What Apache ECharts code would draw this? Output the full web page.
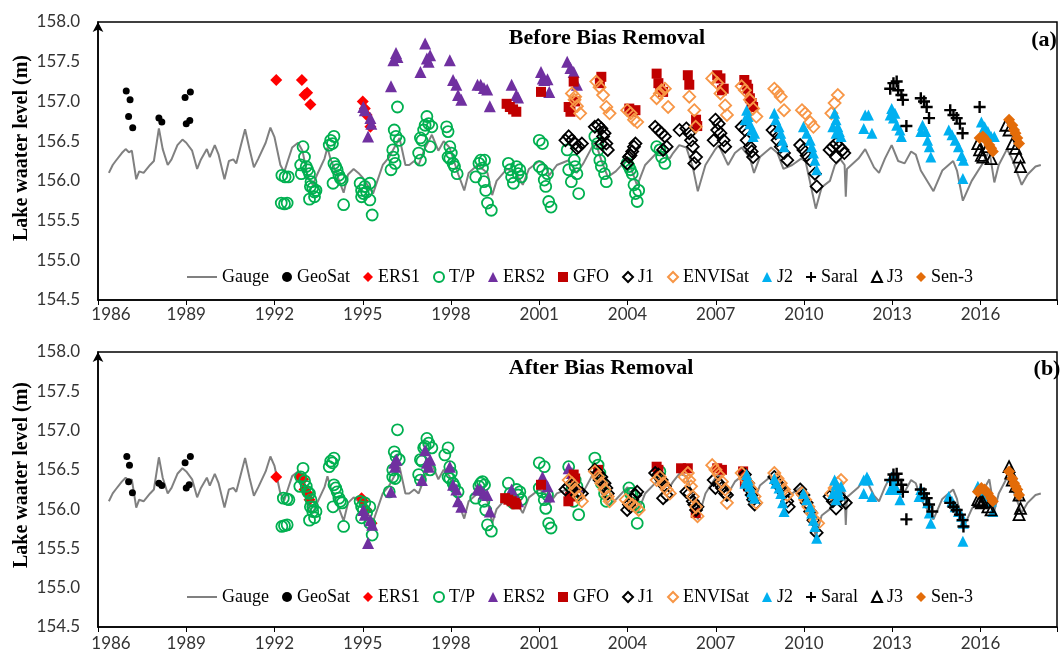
<!DOCTYPE html>
<html><head><meta charset="utf-8">
<script src="https://cdn.jsdelivr.net/npm/echarts@6/dist/echarts.min.js"></script>
<style>html,body{margin:0;padding:0;background:#fff}#c{width:1060px;height:652px}</style>
</head><body><div id="c"></div>
<script>
// ---------- tick labels ----------
const xTickLabels = [1986, 1989, 1992, 1995, 1998, 2001, 2004, 2007, 2010, 2013, 2016];
const yTickLabels = [154.5, 155.0, 155.5, 156.0, 156.5, 157.0, 157.5, 158.0];
const seriesNames = ['GeoSat','ERS1','T/P','ERS2','GFO','J1','ENVISat','J2','Saral','J3','Sen-3'];

// ---------- gauge (same in both panels) ----------
const gauge = [[1986.37,156.10],[1986.5,156.2],[1986.6,156.25],[1986.81,156.35],[1986.94,156.40],[1987.05,156.36],[1987.15,156.38],[1987.3,156.02],[1987.4,156.12],[1987.55,156.10],[1987.77,156.2],[1987.9,156.25],[1988.07,156.66],[1988.2,156.4],[1988.37,156.2],[1988.5,156.27],[1988.7,156.45],[1988.87,156.52],[1989.0,156.48],[1989.2,156.38],[1989.37,156.15],[1989.5,156.27],[1989.7,156.40],[1989.8,156.3],[1989.97,156.45],[1990.1,156.33],[1990.3,156.02],[1990.45,156.25],[1990.6,156.27],[1990.7,156.22],[1990.86,156.45],[1991.0,156.65],[1991.15,156.4],[1991.3,156.17],[1991.45,156.28],[1991.7,156.48],[1991.86,156.67],[1992.0,156.55],[1992.2,156.2],[1992.33,156.11],[1992.45,156.25],[1992.6,156.42],[1992.8,156.48],[1992.95,156.38],[1993.13,156.05],[1993.3,155.95],[1993.45,156.08],[1993.7,156.28],[1993.8,156.42],[1993.9,156.28],[1994.12,156.08],[1994.35,155.85],[1994.5,156.08],[1994.69,156.15],[1994.85,156.1],[1995.0,156.04],[1995.35,155.84],[1995.68,156.2],[1995.9,156.3],[1996.25,156.54],[1996.45,156.2],[1996.58,156.2],[1996.75,156.25],[1996.9,156.2],[1997.1,156.4],[1997.35,156.58],[1997.57,156.38],[1997.75,156.5],[1997.95,156.42],[1998.25,156.08],[1998.45,155.88],[1998.6,156.1],[1998.9,156.2],[1999.24,156.1],[1999.4,155.82],[1999.55,156.0],[1999.9,156.15],[2000.2,156.1],[2000.44,155.95],[2000.65,156.15],[2001.0,156.25],[2001.2,156.2],[2001.34,156.07],[2001.6,156.2],[2002.0,156.26],[2002.27,156.1],[2002.5,156.22],[2002.9,156.5],[2003.1,156.27],[2003.33,156.05],[2003.6,156.12],[2004.0,156.28],[2004.33,155.94],[2004.6,156.2],[2004.99,156.35],[2005.2,156.35],[2005.43,156.28],[2005.55,156.35],[2005.76,156.45],[2006.0,156.42],[2006.22,156.17],[2006.39,155.87],[2006.65,156.2],[2006.99,156.4],[2007.1,156.45],[2007.42,156.2],[2007.65,156.35],[2007.88,156.42],[2008.15,156.3],[2008.3,156.1],[2008.5,156.3],[2008.88,156.42],[2009.1,156.35],[2009.3,156.15],[2009.6,156.2],[2009.9,156.28],[2010.05,156.25],[2010.4,155.65],[2010.6,155.92],[2010.88,156.0],[2011.05,156.2],[2011.24,156.27],[2011.38,156.2],[2011.42,155.8],[2011.46,156.15],[2011.85,156.28],[2012.08,156.4],[2012.38,156.17],[2012.55,156.1],[2012.75,156.28],[2012.98,156.45],[2013.2,156.25],[2013.42,156.22],[2013.64,156.37],[2013.8,156.33],[2013.97,156.13],[2014.4,155.87],[2014.7,156.13],[2015.07,156.25],[2015.2,156.13],[2015.4,155.75],[2015.7,156.0],[2016.04,156.2],[2016.3,156.38],[2016.47,155.98],[2016.62,156.2],[2016.9,156.4],[2017.07,156.28],[2017.4,155.95],[2017.6,156.08],[2017.87,156.18],[2018.05,156.2]];

// ---------- panel (a): before bias removal ----------
const geoSatA = [[1986.96,157.13],[1987.09,157.02],[1987.04,156.81],[1987.18,156.67],[1988.07,156.79],[1988.17,156.74],[1988.96,157.05],[1989.14,157.12],[1989.0,156.72],[1989.12,156.76]];
const ers1A = [[1992.06,157.27],[1992.93,157.27],[1993.02,157.08],[1993.11,157.11],[1993.22,156.96],[1995.0,157.0],[1995.07,156.91],[1995.13,156.83],[1995.26,156.68]];
const tpA = [[1992.25,156.07],[1992.36,156.05],[1992.47,156.05],[1992.23,155.72],[1992.34,155.71],[1992.43,155.72],[1992.97,156.43],[1993.02,156.30],[1992.89,156.20],[1993.08,156.18],[1992.91,156.09],[1993.13,156.14],[1993.19,156.09],[1993.24,155.99],[1993.22,155.93],[1993.3,155.91],[1993.36,155.86],[1993.19,155.77],[1993.36,155.80],[1993.41,155.88],[1993.86,156.45],[1993.91,156.51],[1994.02,156.56],[1993.97,156.47],[1994.02,156.22],[1994.08,156.18],[1994.13,156.14],[1994.19,156.07],[1994.24,156.03],[1994.3,156.01],[1993.99,155.97],[1994.35,155.70],[1994.91,155.97],[1994.96,155.88],[1995.02,155.84],[1995.07,155.93],[1995.13,155.86],[1994.96,155.80],[1995.24,155.76],[1995.32,155.57],[1995.24,155.97],[1995.96,156.14],[1996.02,156.39],[1996.07,156.64],[1996.18,156.93],[1996.13,156.56],[1996.24,156.51],[1996.04,156.30],[1996.1,156.22],[1996.9,156.35],[1996.96,156.26],[1997.01,156.51],[1997.07,156.64],[1997.12,156.70],[1997.18,156.81],[1997.24,156.72],[1997.35,156.68],[1997.29,156.43],[1996.96,156.54],[1997.85,156.68],[1997.9,156.62],[1997.96,156.43],[1998.01,156.35],[1997.9,156.30],[1998.07,156.22],[1998.12,156.18],[1998.21,156.09],[1997.96,156.28],[1998.84,156.05],[1998.95,156.22],[1999.01,156.26],[1999.07,156.16],[1999.12,155.99],[1999.18,155.88],[1999.24,155.72],[1999.37,155.63],[1999.14,156.26],[1999.95,156.22],[2000.01,156.14],[2000.06,156.05],[2000.12,155.97],[2000.23,156.18],[2000.28,156.09],[2000.34,156.14],[2000.39,156.05],[2001.0,156.51],[2001.11,156.47],[2001.0,156.18],[2001.11,156.14],[2001.17,156.01],[2001.22,155.93],[2001.28,156.09],[2001.32,155.74],[2001.4,155.67],[2001.95,156.39],[2002.0,156.14],[2002.09,155.99],[2002.22,156.18],[2002.28,156.09],[2002.34,155.84],[2002.19,156.26],[2002.89,156.56],[2002.98,156.47],[2003.0,156.39],[2003.06,156.26],[2003.11,156.18],[2003.22,156.09],[2003.28,155.99],[2003.99,156.22],[2004.05,156.18],[2004.1,156.14],[2004.16,156.09],[2004.22,155.95],[2004.27,155.84],[2004.33,155.74],[2004.38,155.88],[2004.99,156.43],[2005.1,156.39],[2005.16,156.30],[2005.27,156.22]];
const ers2A = [[1995.02,156.93],[1995.07,156.89],[1995.18,156.56],[1995.26,156.79],[1995.29,156.72],[1995.96,157.19],[1996.04,157.52],[1996.13,157.61],[1996.18,157.56],[1996.96,157.37],[1997.12,157.73],[1997.18,157.54],[1997.29,157.58],[1997.24,157.50],[1997.96,157.52],[1998.07,157.27],[1998.18,157.21],[1998.24,157.08],[1998.35,157.02],[1998.9,157.21],[1999.01,157.21],[1999.12,157.17],[1999.23,157.15],[1999.32,156.94],[2000.06,157.21],[2000.22,157.08],[2000.28,157.05],[2001.06,157.37],[2001.12,157.29],[2001.17,157.27],[2001.28,157.28],[2001.34,157.12],[2001.95,157.50],[2002.06,157.42],[2002.17,157.37],[2002.28,157.21]];
const gfoA = [[1999.89,156.97],[2000.0,156.93],[2000.11,156.90],[2000.22,156.87],[2001.06,157.12],[2002.17,157.25],[2002.22,157.0],[2002.0,156.93],[2002.06,156.87],[2003.11,157.31],[2003.06,157.23],[2004.06,156.91],[2004.17,156.87],[2004.27,156.89],[2004.99,157.35],[2005.05,157.23],[2005.11,157.16],[2005.21,157.12],[2006.05,157.33],[2006.1,157.21],[2006.33,156.77],[2006.37,156.69],[2007.05,157.33],[2007.16,157.29],[2007.21,157.14],[2007.27,157.16],[2007.97,157.27],[2008.05,157.21],[2008.1,157.16],[2008.16,157.04],[2008.22,156.98],[2008.27,156.93]];
const j1A = [[2001.89,156.51],[2002.0,156.56],[2002.11,156.51],[2002.22,156.47],[2002.34,156.43],[2002.45,156.47],[2002.28,156.41],[2002.89,156.68],[2003.0,156.70],[2003.11,156.66],[2003.22,156.60],[2003.17,156.56],[2003.28,156.47],[2003.33,156.39],[2003.11,156.47],[2003.99,156.22],[2004.05,156.30],[2004.16,156.37],[2004.22,156.43],[2004.27,156.47],[2004.1,156.32],[2004.94,156.68],[2005.05,156.64],[2005.16,156.60],[2005.27,156.56],[2005.33,156.43],[2005.21,156.39],[2005.77,156.64],[2006.0,156.66],[2006.1,156.60],[2006.16,156.51],[2006.22,156.43],[2006.33,156.30],[2006.27,156.22],[2006.99,156.77],[2007.1,156.72],[2007.05,156.64],[2007.16,156.60],[2007.27,156.51],[2007.32,156.43],[2006.93,156.51],[2007.88,156.68],[2007.99,156.64],[2008.05,156.51],[2008.16,156.43],[2008.22,156.37],[2008.27,156.30],[2008.93,156.64],[2009.04,156.60],[2009.1,156.51],[2009.21,156.43],[2009.32,156.35],[2009.43,156.26],[2009.87,156.45],[2009.98,156.39],[2010.09,156.32],[2010.21,156.26],[2010.37,156.09],[2010.43,155.93],[2010.87,156.39],[2010.98,156.43],[2011.09,156.47],[2011.2,156.43],[2011.31,156.39],[2011.37,156.35],[2011.09,156.30]];
const envisatA = [[2002.11,157.10],[2002.2,157.02],[2002.28,156.94],[2002.39,156.85],[2002.22,157.06],[2002.94,157.25],[2003.05,157.18],[2003.17,157.08],[2003.28,156.93],[2003.39,156.85],[2003.99,156.89],[2004.11,156.85],[2004.22,156.77],[2004.33,156.74],[2004.99,157.04],[2005.1,157.10],[2005.16,157.14],[2005.27,157.16],[2005.38,156.93],[2006.1,157.06],[2006.27,156.89],[2006.32,156.68],[2006.88,157.29],[2007.05,157.23],[2007.16,157.10],[2007.32,156.95],[2007.38,156.83],[2007.88,157.19],[2007.99,157.14],[2008.16,157.02],[2008.27,156.91],[2008.38,156.81],[2008.99,157.16],[2009.1,157.12],[2009.21,157.06],[2009.32,156.89],[2009.93,156.89],[2010.04,156.85],[2010.21,156.74],[2010.32,156.68],[2010.93,156.85],[2011.04,156.98],[2011.15,157.08]];
const j2A = [[2008.05,156.89],[2008.1,156.81],[2008.16,156.72],[2008.22,156.64],[2008.27,156.56],[2008.32,156.60],[2007.99,156.77],[2008.99,156.85],[2009.04,156.77],[2009.15,156.68],[2009.21,156.60],[2009.27,156.51],[2009.32,156.43],[2009.98,156.68],[2010.09,156.60],[2010.21,156.51],[2010.26,156.43],[2010.32,156.35],[2010.37,156.26],[2010.43,156.14],[2011.04,156.85],[2011.09,156.77],[2011.15,156.68],[2011.2,156.62],[2011.26,156.56],[2010.98,156.68],[2011.09,156.60],[2012.08,156.83],[2012.19,156.83],[2012.03,156.66],[2012.31,156.60],[2012.98,156.91],[2013.09,156.85],[2013.04,156.79],[2013.15,156.70],[2013.26,156.64],[2013.31,156.56],[2012.93,156.83],[2014.03,156.70],[2014.14,156.62],[2014.2,156.51],[2014.26,156.43],[2014.31,156.30],[2013.97,156.62],[2014.92,156.64],[2015.03,156.58],[2015.14,156.51],[2015.25,156.43],[2015.36,156.32],[2015.42,156.26],[2015.4,156.03],[2016.03,156.74],[2016.14,156.68],[2016.25,156.62],[2016.36,156.56],[2016.47,156.56],[2016.08,156.62]];
const saralA = [[2012.93,157.16],[2013.04,157.23],[2013.15,157.25],[2013.2,157.14],[2013.31,157.08],[2013.36,157.02],[2013.48,156.69],[2013.97,157.04],[2014.08,157.0],[2014.17,156.93],[2014.25,156.79],[2014.97,156.89],[2015.08,156.83],[2015.19,156.79],[2015.3,156.72],[2015.39,156.60],[2015.97,156.93]];
const j3A = [[2015.91,156.47],[2015.97,156.39],[2016.03,156.32],[2016.08,156.30],[2016.25,156.43],[2016.36,156.28],[2016.86,156.70],[2016.97,156.64],[2017.08,156.47],[2017.19,156.41],[2017.31,156.30],[2017.36,156.18]];
const sen3A = [[2015.97,156.54],[2016.08,156.56],[2016.19,156.51],[2016.3,156.45],[2016.36,156.41],[2016.42,156.37],[2016.97,156.77],[2017.08,156.70],[2017.14,156.64],[2017.19,156.60],[2017.25,156.54],[2017.31,156.47]];

// ---------- panel (b): after bias removal ----------
const geoSatB = [[1986.98,156.67],[1987.07,156.56],[1987.04,156.35],[1987.17,156.21],[1988.07,156.33],[1988.17,156.30],[1988.96,156.59],[1989.14,156.67],[1989.0,156.27],[1989.1,156.31]];
const ers1B = [[1992.06,156.41],[1992.86,156.41],[1992.97,156.38],[1993.02,156.25],[1993.13,156.2],[1993.19,156.12],[1994.96,156.14],[1995.02,156.10],[1995.13,155.99],[1995.3,155.82]];
const tpB = [[1992.3,156.14],[1992.42,156.13],[1992.49,156.12],[1992.25,155.78],[1992.34,155.79],[1992.43,155.80],[1992.97,156.52],[1992.89,156.41],[1993.02,156.36],[1992.86,156.29],[1993.08,156.29],[1993.13,156.22],[1993.19,156.20],[1993.24,156.12],[1993.22,156.03],[1993.3,155.97],[1993.36,155.89],[1993.19,155.86],[1993.41,155.97],[1993.3,156.03],[1993.86,156.54],[1993.91,156.61],[1994.02,156.65],[1993.97,156.59],[1994.02,156.31],[1994.08,156.27],[1994.13,156.22],[1994.19,156.14],[1994.24,156.10],[1994.3,156.08],[1993.99,156.03],[1994.35,155.78],[1994.91,156.10],[1994.96,156.03],[1995.02,155.99],[1995.07,156.08],[1995.13,155.95],[1994.96,155.89],[1995.24,155.82],[1995.32,155.67],[1995.24,156.03],[1995.9,156.22],[1996.02,156.41],[1996.07,156.73],[1996.18,157.01],[1996.13,156.67],[1996.24,156.63],[1996.02,156.50],[1996.1,156.39],[1996.9,156.44],[1996.96,156.37],[1997.01,156.61],[1997.07,156.78],[1997.12,156.80],[1997.18,156.90],[1997.24,156.84],[1997.35,156.78],[1997.29,156.50],[1996.96,156.63],[1997.79,156.69],[1997.9,156.78],[1997.96,156.54],[1998.01,156.46],[1997.9,156.41],[1998.07,156.33],[1998.12,156.29],[1998.24,156.22],[1997.96,156.39],[1998.84,156.14],[1998.95,156.29],[1999.01,156.33],[1999.07,156.35],[1999.12,156.10],[1999.18,155.99],[1999.24,155.80],[1999.37,155.72],[1999.14,156.31],[1999.95,156.33],[2000.01,156.20],[2000.06,156.10],[2000.12,156.08],[2000.23,156.25],[2000.28,156.18],[2000.34,156.22],[2000.39,156.12],[2001.0,156.59],[2001.17,156.54],[2001.0,156.27],[2001.11,156.22],[2001.17,156.12],[2001.22,156.01],[2001.28,156.18],[2001.32,155.82],[2001.4,155.76],[2002.0,156.54],[2002.11,156.25],[2002.17,156.10],[2002.28,156.29],[2002.34,155.93],[2002.22,156.37],[2002.89,156.65],[2003.0,156.56],[2003.06,156.46],[2003.11,156.33],[2003.22,156.20],[2003.28,156.10],[2004.05,156.27],[2004.1,156.20],[2004.16,156.20],[2004.22,156.06],[2004.33,155.82],[2004.38,156.03],[2005.1,156.48]];
const ers2B = [[1995.02,155.99],[1995.07,155.93],[1995.18,155.57],[1995.26,155.86],[1995.32,155.80],[1995.96,156.22],[1996.07,156.59],[1996.15,156.63],[1996.1,156.54],[1997.01,156.37],[1997.12,156.75],[1997.18,156.59],[1997.29,156.63],[1997.24,156.54],[1997.96,156.54],[1998.07,156.31],[1998.18,156.25],[1998.24,156.10],[1998.35,156.03],[1998.9,156.25],[1999.01,156.25],[1999.12,156.20],[1999.23,156.18],[1999.32,155.97],[2000.06,156.25],[2000.22,156.12],[2000.28,156.10],[2001.11,156.41],[2001.17,156.33],[2001.28,156.29],[2001.34,156.16],[2002.0,156.52],[2002.11,156.46],[2002.17,156.41],[2002.28,156.29]];
const gfoB = [[1999.84,156.14],[1999.95,156.12],[2000.06,156.10],[2000.17,156.08],[2000.22,156.06],[2001.06,156.31],[2002.17,156.44],[2002.22,156.39],[2001.99,156.10],[2002.05,156.16],[2003.0,156.50],[2004.99,156.54],[2005.05,156.50],[2005.82,156.52],[2006.05,156.52],[2006.32,155.95],[2007.05,156.52],[2007.21,156.50],[2007.93,156.48],[2007.99,156.33],[2008.1,156.29]];
const j1B = [[2001.89,156.25],[2002.0,156.29],[2002.11,156.31],[2002.22,156.27],[2002.34,156.22],[2002.45,156.20],[2002.28,156.18],[2002.89,156.50],[2003.0,156.46],[2003.11,156.41],[2003.22,156.33],[2003.28,156.27],[2003.33,156.20],[2003.05,156.37],[2003.99,155.99],[2004.05,156.06],[2004.16,156.12],[2004.27,156.18],[2004.33,156.22],[2004.1,156.03],[2004.94,156.46],[2005.05,156.44],[2005.16,156.37],[2005.27,156.29],[2005.33,156.18],[2005.21,156.14],[2006.0,156.22],[2006.1,156.20],[2006.22,156.10],[2006.27,156.06],[2006.33,155.99],[2006.38,156.03],[2006.93,156.37],[2006.99,156.27],[2007.1,156.33],[2007.21,156.27],[2007.32,156.20],[2007.38,156.18],[2007.99,156.44],[2008.1,156.33],[2008.16,156.25],[2008.22,156.18],[2008.27,156.12],[2008.32,156.06],[2008.99,156.41],[2009.1,156.33],[2009.21,156.27],[2009.32,156.20],[2009.43,156.10],[2009.48,156.03],[2009.87,156.25],[2009.98,156.18],[2010.09,156.08],[2010.21,155.97],[2010.32,155.86],[2010.43,155.70],[2010.87,156.16],[2010.98,156.10],[2011.09,156.01],[2011.2,156.16],[2011.31,156.12],[2011.42,156.08]];
const envisatB = [[2002.0,156.37],[2002.11,156.33],[2002.22,156.25],[2002.34,156.16],[2002.45,156.10],[2002.89,156.48],[2003.0,156.41],[2003.11,156.33],[2003.22,156.25],[2003.33,156.16],[2003.39,156.10],[2003.94,156.12],[2004.05,156.08],[2004.16,156.06],[2004.27,156.03],[2004.38,155.99],[2004.99,156.37],[2005.1,156.41],[2005.21,156.33],[2005.33,156.25],[2005.44,156.20],[2005.94,156.41],[2006.05,156.46],[2006.1,156.37],[2006.16,156.29],[2006.22,156.16],[2006.33,156.03],[2006.38,155.91],[2006.88,156.56],[2006.99,156.50],[2007.1,156.44],[2007.21,156.35],[2007.32,156.25],[2007.38,156.08],[2007.88,156.46],[2007.99,156.39],[2008.1,156.33],[2008.22,156.25],[2008.32,156.16],[2008.38,156.08],[2008.99,156.46],[2009.1,156.39],[2009.21,156.33],[2009.32,156.25],[2009.43,156.18],[2009.93,156.20],[2010.04,156.12],[2010.15,156.03],[2010.26,155.95],[2010.37,155.86],[2010.48,155.82],[2010.93,156.20],[2011.04,156.27],[2011.15,156.33],[2011.26,156.37]];
const j2B = [[2008.05,156.44],[2008.1,156.37],[2008.16,156.29],[2008.22,156.22],[2008.27,156.18],[2008.32,156.14],[2007.99,156.33],[2008.99,156.39],[2009.04,156.33],[2009.15,156.27],[2009.21,156.20],[2009.27,156.08],[2009.32,155.97],[2009.98,156.20],[2010.09,156.12],[2010.21,156.03],[2010.26,155.95],[2010.32,155.86],[2010.37,155.78],[2010.43,155.63],[2011.04,156.37],[2011.09,156.31],[2011.15,156.25],[2011.2,156.18],[2010.98,156.20],[2011.09,156.12],[2011.26,156.29],[2012.03,156.37],[2012.14,156.41],[2012.19,156.37],[2012.03,156.20],[2012.31,156.16],[2012.98,156.41],[2013.09,156.37],[2013.04,156.29],[2013.15,156.25],[2013.26,156.12],[2012.93,156.25],[2013.97,156.25],[2014.08,156.18],[2014.2,156.08],[2014.26,155.95],[2014.31,155.82],[2013.91,156.16],[2014.92,156.16],[2015.03,156.10],[2015.14,156.03],[2015.25,155.97],[2015.36,155.91],[2015.42,155.82],[2015.4,155.59],[2015.91,156.29],[2016.03,156.22],[2016.14,156.18],[2016.25,156.14],[2016.36,156.10],[2016.42,155.97]];
const saralB = [[2012.93,156.37],[2013.04,156.44],[2013.15,156.45],[2013.2,156.37],[2013.31,156.31],[2013.36,156.22],[2013.48,155.87],[2013.97,156.25],[2014.08,156.20],[2014.17,156.14],[2014.25,156.06],[2014.36,155.97],[2014.97,156.08],[2015.08,156.03],[2015.19,155.99],[2015.3,155.93],[2015.39,155.86],[2015.42,155.78]];
const j3B = [[2015.91,156.12],[2015.97,156.10],[2016.03,156.08],[2016.08,156.09],[2016.25,156.03],[2016.36,155.99],[2016.97,156.54],[2017.03,156.46],[2017.08,156.37],[2017.19,156.29],[2017.31,156.18],[2017.36,156.01],[2017.31,155.93]];
const sen3B = [[2015.91,156.22],[2016.03,156.27],[2016.14,156.25],[2016.25,156.20],[2016.36,156.14],[2016.42,156.10],[2016.97,156.48],[2017.08,156.39],[2017.14,156.33],[2017.19,156.29],[2017.25,156.25],[2017.31,156.18]];

const panelData = [
  [geoSatA, ers1A, tpA, ers2A, gfoA, j1A, envisatA, j2A, saralA, j3A, sen3A],
  [geoSatB, ers1B, tpB, ers2B, gfoB, j1B, envisatB, j2B, saralB, j3B, sen3B]
];

// ---------- styles ----------
const PLUS = 'path://M4,0h2v4h4v2h-4v4h-2v-4h-4v-2h4z';
const styles = {
  'GeoSat':  {symbol:'circle',   size:7,  fill:'#000000'},
  'ERS1':    {symbol:'diamond',  size:12, fill:'#FF0000'},
  'T/P':     {symbol:'circle',   size:11, stroke:'#00B050'},
  'ERS2':    {symbol:'triangle', size:12, fill:'#7030A0'},
  'GFO':     {symbol:'rect',     size:10, fill:'#C00000'},
  'J1':      {symbol:'diamond',  size:12, stroke:'#000000'},
  'ENVISat': {symbol:'diamond',  size:12, stroke:'#F79646'},
  'J2':      {symbol:'triangle', size:11, fill:'#00B0F0'},
  'Saral':   {symbol:PLUS,       size:12, fill:'#000000'},
  'J3':      {symbol:'triangle', size:11, stroke:'#000000'},
  'Sen-3':   {symbol:'diamond',  size:12, fill:'#E36C09'}
};

const LBL = {fontFamily:'Lato', fontSize:17, color:'#333'};
const SERIF = '"Liberation Serif", "Times New Roman", serif';

const grids = [
  {left:98, top:22, width:980, height:278, show:true, borderColor:'#000', borderWidth:1.5, backgroundColor:'transparent'},
  {left:98, top:352, width:980, height:275, show:true, borderColor:'#000', borderWidth:1.5, backgroundColor:'transparent'}
];

function xAxisFor(i, margin){
  return {type:'value', gridIndex:i, min:xTickLabels[0], max:2018.6, interval:3,
    axisLine:{show:true, lineStyle:{color:'#000', width:1.5}},
    axisTick:{show:true, length:5, lineStyle:{color:'#000', width:1}},
    splitLine:{show:false}, showMaxLabel:false,
    axisLabel:{...LBL, margin:margin,
      formatter:(v)=> v===xTickLabels[0] ? '{f|'+v+'}' : (xTickLabels.indexOf(v)>=0 ? String(v) : ''),
      rich:{f:{...LBL, padding:[0,0,0,26]}}}};
}
function yAxisFor(i){
  return {type:'value', gridIndex:i, min:yTickLabels[0], max:yTickLabels[yTickLabels.length-1], interval:0.5,
    axisLine:{show:true, symbol:['none','arrow'], symbolSize:[8,10], lineStyle:{color:'#000', width:1.5}},
    axisTick:{show:false}, splitLine:{show:false},
    axisLabel:{...LBL, margin:18, formatter:(v)=>v.toFixed(1)}};
}

const series = [];
for (let p=0; p<2; p++){
  series.push({name:'Gauge', type:'line', xAxisIndex:p, yAxisIndex:p, data:gauge, showSymbol:false,
    color:'#808080', lineStyle:{color:'#808080', width:2, opacity:1}, z:1, silent:true});
  seriesNames.forEach((nm, k)=>{
    const st = styles[nm];
    const itemStyle = st.stroke ? {color:'rgba(255,255,255,0)', borderColor:st.stroke, borderWidth:1.8, opacity:1}
                                : {color:st.fill, borderWidth:0, opacity:1};
    series.push({name:nm, type:'scatter', xAxisIndex:p, yAxisIndex:p, data:panelData[p][k],
      symbol:st.symbol, symbolSize:st.size, itemStyle:itemStyle, z:2+k});
  });
}

function legendsFor(top){
  return [
    {left:182, top:top, itemWidth:30, itemHeight:2, data:[{name:'Gauge', icon:'rect'}],
      textStyle:{fontFamily:SERIF, fontSize:18, color:'#000'}, selectedMode:false},
    {left:277, top:top, itemWidth:10, itemHeight:10, itemGap:13, data:seriesNames,
      textStyle:{fontFamily:SERIF, fontSize:18, color:'#000'}, selectedMode:false}
  ];
}

const graphics = [
  {type:'text', x:607, y:38, style:{text:'Before Bias Removal', font:'bold 22px '+SERIF, fill:'#000', align:'center', verticalAlign:'middle'}},
  {type:'text', x:601, y:368, style:{text:'After Bias Removal', font:'bold 22px '+SERIF, fill:'#000', align:'center', verticalAlign:'middle'}},
  {type:'text', x:1044, y:40, style:{text:'(a)', font:'bold 22px '+SERIF, fill:'#000', align:'center', verticalAlign:'middle'}},
  {type:'text', x:1047, y:369, style:{text:'(b)', font:'bold 22px '+SERIF, fill:'#000', align:'center', verticalAlign:'middle'}},
  {type:'text', x:22, y:148, rotation:Math.PI/2, style:{text:'Lake waater level (m)', font:'bold 20px '+SERIF, fill:'#000', align:'center', verticalAlign:'middle'}},
  {type:'text', x:22, y:475, rotation:Math.PI/2, style:{text:'Lake waater level (m)', font:'bold 20px '+SERIF, fill:'#000', align:'center', verticalAlign:'middle'}}
];

const chart = echarts.init(document.getElementById('c'), null, {renderer:'canvas'});
chart.setOption({
  animation:false,
  backgroundColor:'#fff',
  grid:grids,
  xAxis:[xAxisFor(0,6), xAxisFor(1,8)],
  yAxis:[yAxisFor(0), yAxisFor(1)],
  legend:[...legendsFor(263), ...legendsFor(583)],
  graphic:graphics,
  series:series
});
</script></body></html>
